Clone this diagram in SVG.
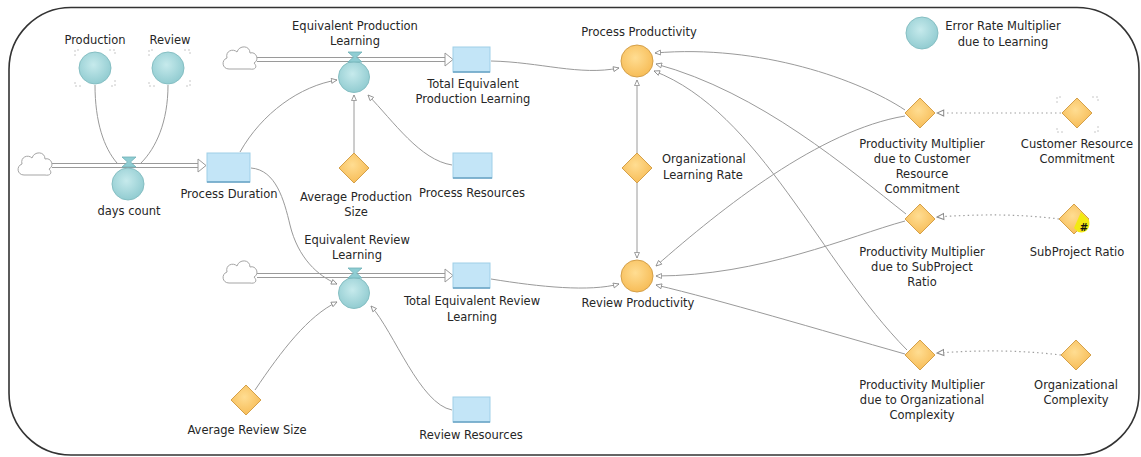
<svg xmlns="http://www.w3.org/2000/svg" width="1141" height="457" viewBox="0 0 1141 457">
<defs>
<style>
.t{font-family:"DejaVu Sans","Liberation Sans",sans-serif;font-size:11.5px;fill:#262626;text-anchor:middle}
.ts{text-anchor:start}
.aux{fill:url(#gTeal);stroke:#86bfc3;stroke-width:1}
.cv{fill:url(#gOrange);stroke:#d4a04a;stroke-width:1}
.stock{fill:#c3e5f7;stroke:#9fcfe8;stroke-width:1}
.stockb{stroke:#6aa3c4;stroke-width:1.5}
.link{fill:none;stroke:#9a9a9a;stroke-width:1}
.dot{fill:none;stroke:#a0a0a0;stroke-width:1.2;stroke-dasharray:1.5 3}
.pipe{fill:none;stroke:#9a9a9a;stroke-width:1}
.pipehead{fill:#fff;stroke:#9a9a9a;stroke-width:1}
.ghost{fill:none;stroke:#c8c8c8;stroke-width:1;stroke-dasharray:2 2}
.cloud{fill:#fff;stroke:#a5a5a5;stroke-width:1}
.valve{fill:#8fcdd3;stroke:#6fb0b6;stroke-width:0.8}
.frame{fill:none;stroke:#333;stroke-width:1.6}
</style>
<radialGradient id="gTeal" cx="45%" cy="40%" r="60%">
<stop offset="0" stop-color="#c6eaec"/><stop offset="1" stop-color="#92ccd1"/>
</radialGradient>
<radialGradient id="gOrange" cx="45%" cy="40%" r="60%">
<stop offset="0" stop-color="#ffdd92"/><stop offset="1" stop-color="#f7bd58"/>
</radialGradient>
<marker id="ah" viewBox="0 0 10 10" refX="9" refY="5" markerWidth="7" markerHeight="7" orient="auto">
<path d="M1,1.5 L9,5 L1,8.5 Z" fill="#fff" stroke="#8a8a8a" stroke-width="1.2"/>
</marker>
<path id="cloud" d="M-11,11 C-18,11 -19,2 -13,0 C-15,-7 -7,-10 -3,-6 C-1,-13 10,-13 10,-5 C16,-7 20,2 14,5 C18,9 15,12 10,11 Z"/>
<path id="valve" d="M-7,-5 L7,-5 L1.5,0 L7,5 L-7,5 L-1.5,0 Z"/>
<path id="dia" d="M0,-15 L15,0 L0,15 L-15,0 Z"/>
</defs>

<rect width="1141" height="457" fill="#fff"/>
<!-- outer frame -->
<rect class="frame" x="9" y="7.5" width="1130" height="447.5" rx="62" ry="62"/>

<!-- connectors: links, info links and flow pipes -->
<g id="connectors">
  <!-- flow pipes -->
  <path class="pipe" d="M52,163.5 H199 M52,167.5 H199"/>
  <path class="pipehead" d="M198,159 L206,165.5 L198,172 Z"/>
  <path class="pipe" d="M257,57.5 H446 M257,61.5 H446"/>
  <path class="pipehead" d="M445,53 L453,59.5 L445,66 Z"/>
  <path class="pipe" d="M257,273.5 H446 M257,277.5 H446"/>
  <path class="pipehead" d="M445,269 L453,275.5 L445,282 Z"/>

  <!-- inputs to days count -->
  <path class="link" d="M95,85 C95,122 104,148 117,163"/>
  <path class="link" d="M168,85 C168,122 156,148 141,163"/>

  <!-- inputs to the learning flows -->
  <path class="link" marker-end="url(#ah)" d="M240,152 C262,113 300,86 337,80"/>
  <path class="link" marker-end="url(#ah)" d="M251,168 C276,170 284,200 290,225 C298,258 318,276 337,284"/>
  <path class="link" marker-end="url(#ah)" d="M354,153 L354,95"/>
  <path class="link" marker-end="url(#ah)" d="M452,165 C420,160 394,122 368,95"/>
  <path class="link" marker-end="url(#ah)" d="M255,390 C282,350 308,316 337,302"/>
  <path class="link" marker-end="url(#ah)" d="M452,410 C420,404 394,332 371,306"/>

  <!-- stocks to productivity -->
  <path class="link" marker-end="url(#ah)" d="M491,61 C540,62 580,76 619,68"/>
  <path class="link" marker-end="url(#ah)" d="M491,279 C540,287 590,292 619,284"/>

  <!-- organizational learning rate -->
  <path class="link" marker-end="url(#ah)" d="M637,153 L637,80"/>
  <path class="link" marker-end="url(#ah)" d="M637,183 L637,258"/>

  <!-- productivity multipliers to process productivity -->
  <path class="link" marker-end="url(#ah)" d="M905,110 C860,80 760,44 655,53"/>
  <path class="link" marker-end="url(#ah)" d="M906,214 C850,170 760,92 656,64"/>
  <path class="link" marker-end="url(#ah)" d="M907,350 C820,262 760,112 654,71"/>

  <!-- productivity multipliers to review productivity -->
  <path class="link" marker-end="url(#ah)" d="M905,116 C820,130 722,208 656,266"/>
  <path class="link" marker-end="url(#ah)" d="M905,221 C850,236 760,276 656,276"/>
  <path class="link" marker-end="url(#ah)" d="M905,354 C820,330 720,300 656,285"/>

  <!-- dotted links from the external drivers -->
  <path class="dot" marker-end="url(#ah)" d="M1061,113 L937,113"/>
  <path class="dot" marker-end="url(#ah)" d="M1059,219 C1020,214 980,214 937,217"/>
  <path class="dot" marker-end="url(#ah)" d="M1061,355 C1020,350 980,350 937,353"/>
</g>

<!-- clouds (sources) -->
<g id="cloud-days"><use href="#cloud" class="cloud" x="35" y="164"/></g>
<g id="cloud-prod"><use href="#cloud" class="cloud" x="240" y="58"/></g>
<g id="cloud-rev"><use href="#cloud" class="cloud" x="240" y="272"/></g>

<!-- nodes -->
<g id="production">
  <path class="ghost" d="M75,56 V50 H81 M109,50 H115 V56 M115,80 V86 H109 M81,86 H75 V80"/>
  <circle class="aux" cx="95" cy="68" r="16"/>
  <text class="t" x="95" y="44">Production</text>
</g>
<g id="review">
  <path class="ghost" d="M149,56 V50 H155 M184,50 H190 V56 M190,80 V86 H184 M155,86 H149 V80"/>
  <circle class="aux" cx="168" cy="68" r="16"/>
  <text class="t" x="170" y="44">Review</text>
</g>
<g id="days-count">
  <circle class="aux" cx="128" cy="184" r="16"/>
  <use href="#valve" class="valve" x="129" y="162"/>
  <text class="t" x="129" y="215">days count</text>
</g>
<g id="process-duration">
  <rect class="stock" x="207" y="153" width="43" height="29"/>
  <line class="stockb" x1="207" y1="182" x2="250" y2="182"/>
  <text class="t" x="229" y="198">Process Duration</text>
</g>
<g id="equivalent-production-learning">
  <circle class="aux" cx="354" cy="77" r="15.5"/>
  <use href="#valve" class="valve" x="355" y="57"/>
  <text class="t" x="355" y="30">Equivalent Production</text>
  <text class="t" x="355" y="45">Learning</text>
</g>
<g id="total-equivalent-production-learning">
  <rect class="stock" x="453" y="47" width="37" height="25"/>
  <line class="stockb" x1="453" y1="72" x2="490" y2="72"/>
  <text class="t" x="473" y="88">Total Equivalent</text>
  <text class="t" x="473" y="103">Production Learning</text>
</g>
<g id="average-production-size">
  <use href="#dia" class="cv" x="354" y="168"/>
  <text class="t" x="356" y="201">Average Production</text>
  <text class="t" x="356" y="216">Size</text>
</g>
<g id="process-resources">
  <rect class="stock" x="453" y="153" width="39" height="25"/>
  <line class="stockb" x1="453" y1="178" x2="492" y2="178"/>
  <text class="t" x="472" y="197">Process Resources</text>
</g>
<g id="equivalent-review-learning">
  <circle class="aux" cx="354" cy="293" r="15.5"/>
  <use href="#valve" class="valve" x="355" y="273"/>
  <text class="t" x="357" y="244">Equivalent Review</text>
  <text class="t" x="357" y="259">Learning</text>
</g>
<g id="total-equivalent-review-learning">
  <rect class="stock" x="453" y="263" width="37" height="25"/>
  <line class="stockb" x1="453" y1="288" x2="490" y2="288"/>
  <text class="t" x="472" y="305">Total Equivalent Review</text>
  <text class="t" x="472" y="321">Learning</text>
</g>
<g id="average-review-size">
  <use href="#dia" class="cv" x="246" y="400"/>
  <text class="t" x="247" y="434">Average Review Size</text>
</g>
<g id="review-resources">
  <rect class="stock" x="453" y="397" width="37" height="25"/>
  <line class="stockb" x1="453" y1="422" x2="490" y2="422"/>
  <text class="t" x="471" y="439">Review Resources</text>
</g>
<g id="process-productivity">
  <circle class="cv" cx="637" cy="61" r="16"/>
  <text class="t" x="639" y="36">Process Productivity</text>
</g>
<g id="organizational-learning-rate">
  <use href="#dia" class="cv" x="637" y="168"/>
  <text class="t ts" x="662" y="163">Organizational</text>
  <text class="t ts" x="663" y="179">Learning Rate</text>
</g>
<g id="review-productivity">
  <circle class="cv" cx="637" cy="276" r="16"/>
  <text class="t" x="638" y="307">Review Productivity</text>
</g>
<g id="error-rate-multiplier">
  <circle class="aux" cx="922" cy="33" r="16"/>
  <text class="t" x="1003" y="30">Error Rate Multiplier</text>
  <text class="t" x="1003" y="46">due to Learning</text>
</g>
<g id="pm-customer-resource-commitment">
  <use href="#dia" class="cv" x="920" y="113"/>
  <text class="t" x="922" y="148">Productivity Multiplier</text>
  <text class="t" x="922" y="163">due to Customer</text>
  <text class="t" x="922" y="178">Resource</text>
  <text class="t" x="922" y="193">Commitment</text>
</g>
<g id="customer-resource-commitment">
  <path class="ghost" d="M1057,103 V97 H1063 M1092,97 H1098 V103 M1098,126 V132 H1092 M1063,132 H1057 V126"/>
  <use href="#dia" class="cv" x="1077" y="113"/>
  <text class="t" x="1077" y="148">Customer Resource</text>
  <text class="t" x="1077" y="163">Commitment</text>
</g>
<g id="pm-subproject-ratio">
  <use href="#dia" class="cv" x="920" y="219"/>
  <text class="t" x="922" y="256">Productivity Multiplier</text>
  <text class="t" x="922" y="271">due to SubProject</text>
  <text class="t" x="922" y="286">Ratio</text>
</g>
<g id="subproject-ratio">
  <use href="#dia" class="cv" x="1074" y="219"/>
  <path d="M1081,212 L1089,220 C1091,228 1086,234 1078,232 L1074,228 Z" fill="#f2ea12"/>
  <text x="1084" y="231" font-family="DejaVu Sans, sans-serif" font-size="10px" font-weight="bold" fill="#111" text-anchor="middle">#</text>
  <text class="t" x="1077" y="256">SubProject Ratio</text>
</g>
<g id="pm-organizational-complexity">
  <use href="#dia" class="cv" x="920" y="355"/>
  <text class="t" x="922" y="389">Productivity Multiplier</text>
  <text class="t" x="922" y="404">due to Organizational</text>
  <text class="t" x="922" y="419">Complexity</text>
</g>
<g id="organizational-complexity">
  <use href="#dia" class="cv" x="1076" y="355"/>
  <text class="t" x="1076" y="389">Organizational</text>
  <text class="t" x="1076" y="404">Complexity</text>
</g>
</svg>
